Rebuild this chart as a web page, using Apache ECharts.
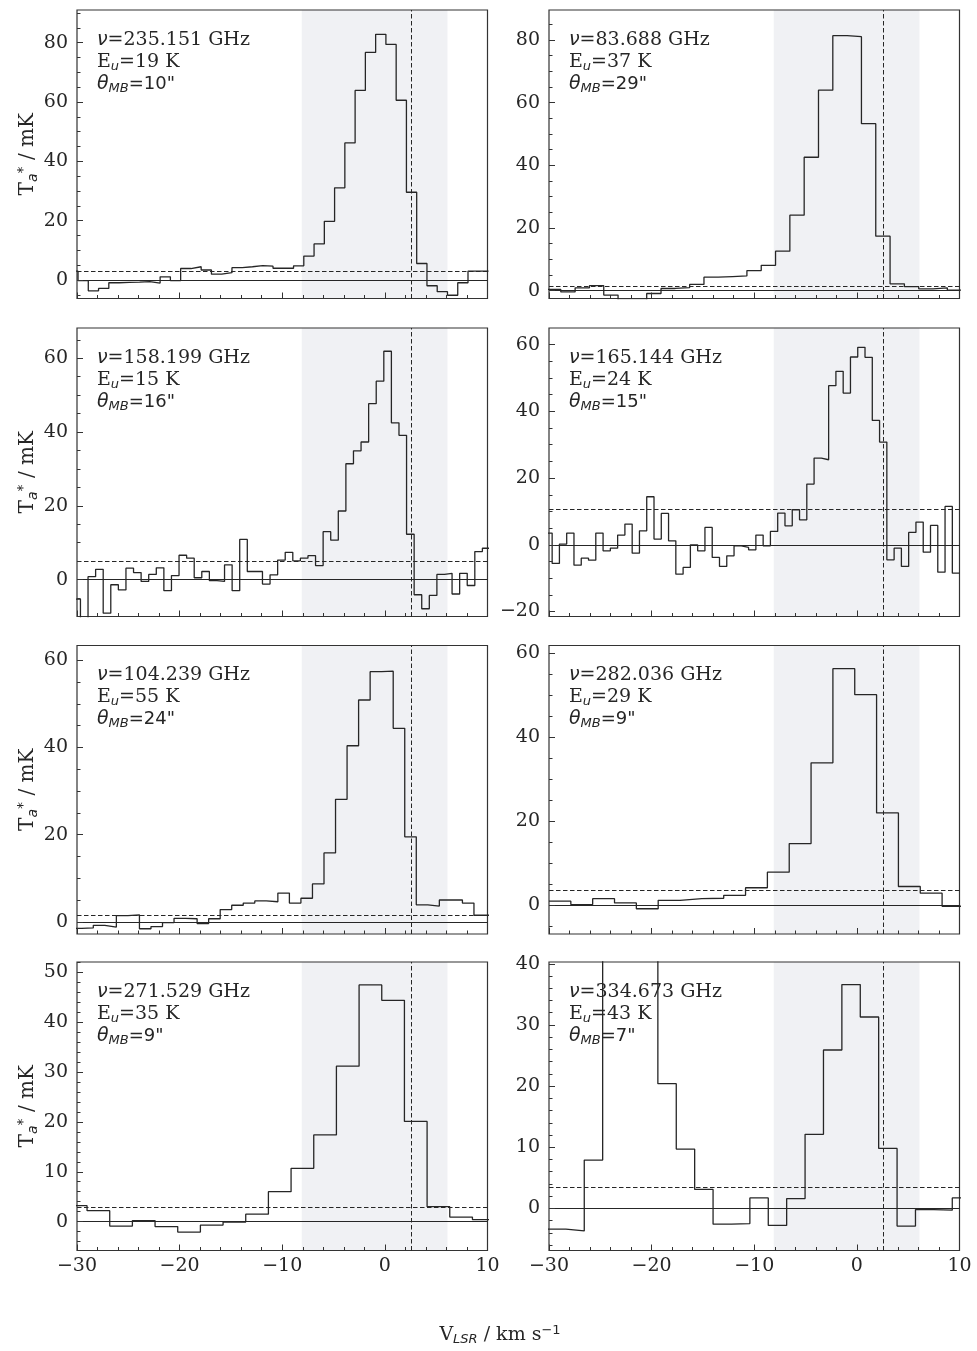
<!DOCTYPE html>
<html>
<head>
<meta charset="utf-8">
<script src="https://cdn.jsdelivr.net/npm/echarts@6/dist/echarts.min.js"></script>
<style>
html,body{margin:0;padding:0;background:#ffffff;}
#chart{width:977px;height:1351px;}
</style>
</head>
<body>
<div id="chart"></div>
<script>
// ---------------- data ----------------
const frequencies = ['235.151', '83.688', '158.199', '165.144', '104.239', '282.036', '271.529', '334.673'];
const upperEnergies = [19, 37, 15, 24, 55, 29, 35, 43];
const beamSizes = [10, 29, 16, 15, 24, 9, 9, 7];

// first channel edge (km/s) and channel width (km/s) of each spectrum
const channelStart = [-30.9, -30.245, -30.403, -30.403, -30.66, -30.0, -31.23, -30.15];
const channelWidth = [1.0, 1.395, 0.739, 0.709, 1.124, 2.128, 2.209, 1.793];

const spec235 = [3.0, -0.2, -3.6, -2.8, -0.9, -0.8, -0.7, -0.5, -1.0, 1.1, -0.2, 3.9, 4.5, 3.4, 2.0, 2.5, 4.2, 4.5, 4.9, 4.7, 4.0, 4.0, 4.8, 8.1, 12.2, 19.8, 31.1, 46.2, 63.9, 76.7, 82.8, 79.4, 60.6, 29.6, 5.6, -1.9, -3.9, -5.1, -0.9, 3.0, 3.0];
const spec83 = [0.4, -0.4, 0.9, 1.6, -1.4, -3.0, -3.0, -0.9, 0.7, 1.0, 2.0, 4.3, 4.5, 4.7, 6.4, 8.1, 12.6, 24.1, 42.6, 64.0, 81.4, 81.1, 53.3, 17.4, 2.2, 1.3, 0.6, 0.9, 0.2];
const spec158 = [-5.3, -12, 0.8, 2.8, -9.1, -1.4, -2.8, 3.1, 1.9, -0.5, 1.4, 3.2, -3.0, 1.1, 6.6, 5.8, 0.5, 2.2, -0.3, -0.5, 4.0, -3.0, 10.9, 2.2, 2.2, -1.2, 1.3, 5.3, 7.4, 5.1, 5.8, 6.5, 3.8, 13.0, 10.7, 18.6, 31.4, 34.9, 37.3, 47.7, 53.8, 61.9, 42.5, 39.1, 12.3, -4.1, -7.9, -4.3, 1.4, 1.7, -3.9, 1.7, -1.6, 7.6, 8.5];
const spec165 = [3.5, -5.6, 0.2, 3.5, -6.1, -4.0, -4.6, 3.5, -1.8, -1.0, 2.9, 6.2, -2.5, 4.2, 14.4, 1.7, 9.4, 1.2, -8.8, -6.8, 0.0, -1.8, 5.2, -3.8, -6.5, -3.3, -0.3, -0.8, -1.5, 2.9, -0.3, 4.0, 9.5, 5.7, 10.5, 7.5, 18.2, 26.0, 25.5, 47.7, 52.0, 45.5, 56.3, 59.2, 56.2, 37.3, 30.8, -4.5, -1.0, -6.5, 3.7, 6.8, -2.2, 5.8, -8.2, 11.5, -8.5];
const spec104 = [-1.5, -1.4, -0.8, -1.2, 1.4, 1.6, -1.6, -1.1, -0.2, 0.8, 0.7, -0.4, 0.7, 2.8, 3.8, 4.3, 4.8, 4.6, 6.6, 4.3, 5.4, 8.7, 15.8, 28.1, 40.4, 50.9, 57.4, 57.5, 44.4, 19.5, 3.9, 3.6, 5.0, 5.0, 4.3, 1.5, 1.5];
const spec282 = [1.0, 0.2, 1.6, 0.6, -0.8, 1.2, 1.6, 1.7, 2.4, 4.2, 7.9, 14.7, 33.9, 56.3, 50.1, 22.0, 4.5, 2.9, -0.2];
const spec271 = [3.2, 2.2, -0.9, 0.2, -1.0, -2.1, -0.7, -0.1, 1.5, 6.0, 10.7, 17.4, 31.2, 47.5, 44.4, 20.1, 3.0, 0.9, 0.4];
const spec334 = [-3.4, -3.7, 7.9, 55, 95, 60, 20.4, 9.7, 3.1, -2.6, -2.5, 1.7, -2.8, 1.6, 12.1, 25.9, 36.6, 31.3, 9.8, -2.9, -0.2, -0.3, 1.7];
const spectra = [spec235, spec83, spec158, spec165, spec104, spec282, spec271, spec334];

const rmsLevels = [3.0, 1.5, 5.0, 10.7, 1.5, 3.5, 2.9, 3.5];
const systemicVelocity = 2.6;
const lineWindow = [-8.1, 6.1];

const yMins = [-6.2, -2.5, -10, -21.5, -2.8, -6.8, -5.8, -6.9];
const yMaxs = [91, 89.6, 68.2, 65, 63.4, 61.8, 52.1, 40.3];
const yTickValues = [
  [0, 20, 40, 60, 80], [0, 20, 40, 60, 80], [0, 20, 40, 60], [-20, 0, 20, 40, 60],
  [0, 20, 40, 60], [0, 20, 40, 60], [0, 10, 20, 30, 40, 50], [0, 10, 20, 30, 40]
];
const yMinorSteps = [5, 5, 5, 5, 5, 5, 2, 2];
const xMin = -30, xMax = 10;
const xTickValues = [-30, -20, -10, 0, 10];
const xMinorStep = 2;

// ---------------- style ----------------
const SERIF = 'DejaVu Serif';
const SANS = 'DejaVu Sans';
const TXT = '#262626';
const AX = '#333333';
const SHADE = '#f0f1f4';
const GRID_LEFT = [77, 549];
const GRID_TOP = [10, 328, 645.5, 962];
const GRID_W = 410.5, GRID_H = 288.5;
const FS = 19;

function minus(v) { return (v < 0 ? '\u2212' : '') + Math.abs(v); }
function minorValues(lo, hi, step, majors) {
  const out = [];
  const s = Math.ceil(lo / step) * step;
  for (let v = s; v <= hi + 1e-9; v += step) {
    const r = Math.round(v * 1000) / 1000;
    if (majors.indexOf(r) < 0 && r > lo && r < hi) out.push(r);
  }
  return out;
}

const richG = {
  s: { fontFamily: SERIF, fontSize: FS, fill: TXT, lineHeight: 22, verticalAlign: 'middle' },
  m: { fontFamily: SANS, fontStyle: 'italic', fontSize: FS, fill: TXT, lineHeight: 22, verticalAlign: 'middle' },
  ms: { fontFamily: SANS, fontSize: 18, fill: TXT, lineHeight: 22, verticalAlign: 'middle' },
  sub: { fontFamily: SANS, fontStyle: 'italic', fontSize: 13, fill: TXT, lineHeight: 12, verticalAlign: 'bottom' },
  sup: { fontFamily: SANS, fontSize: 13, fill: TXT, lineHeight: 10, verticalAlign: 'top' }
};
const richA = {
  s: { fontFamily: SERIF, fontSize: 20, color: TXT, lineHeight: 24, verticalAlign: 'middle' },
  sub: { fontFamily: SANS, fontStyle: 'italic', fontSize: 14, color: TXT, lineHeight: 13, verticalAlign: 'bottom' },
  sup: { fontFamily: SANS, fontSize: 14, color: TXT, lineHeight: 10, verticalAlign: 'top' }
};

const grids = [], xAxes = [], yAxes = [], series = [], graphics = [];
const xMinor = minorValues(xMin, xMax, xMinorStep, xTickValues);

for (let i = 0; i < 8; i++) {
  const col = i % 2, row = Math.floor(i / 2);
  const left = GRID_LEFT[col], top = GRID_TOP[row];
  grids.push({ left: left, top: top, width: GRID_W, height: GRID_H, show: true,
    borderColor: AX, borderWidth: 1.2, backgroundColor: 'transparent', z: 3 });

  // x axes (major + minor)
  xAxes.push({ gridIndex: i, type: 'value', min: xMin, max: xMax, position: 'bottom', z: 6,
    axisLine: { show: false, onZero: false }, splitLine: { show: false },
    axisTick: { show: true, inside: true, length: 6, customValues: xTickValues, lineStyle: { color: AX, width: 1 } },
    axisLabel: { show: row === 3, customValues: xTickValues, formatter: minus, margin: 6,
      fontFamily: SERIF, fontSize: FS, color: TXT } });
  xAxes.push({ gridIndex: i, type: 'value', min: xMin, max: xMax, position: 'bottom', z: 6,
    axisLine: { show: false, onZero: false }, splitLine: { show: false },
    axisTick: { show: true, inside: true, length: 3.5, customValues: xMinor, lineStyle: { color: AX, width: 1 } },
    axisLabel: { show: false } });

  // y axes (major + minor)
  const yMajor = yTickValues[i];
  const yMinor = minorValues(yMins[i], yMaxs[i], yMinorSteps[i], yMajor);
  const yMain = { gridIndex: i, type: 'value', min: yMins[i], max: yMaxs[i], position: 'left', z: 6,
    axisLine: { show: false, onZero: false }, splitLine: { show: false },
    axisTick: { show: true, inside: true, length: 6, customValues: yMajor, lineStyle: { color: AX, width: 1 } },
    axisLabel: { show: true, customValues: yMajor, formatter: minus, margin: 9,
      fontFamily: SERIF, fontSize: FS, color: TXT } };
  if (col === 0) {
    yMain.name = '{s|T}{sub|a}{sup|*}{s| / mK}';
    yMain.nameLocation = 'middle';
    yMain.nameRotate = 90;
    yMain.nameGap = 37;
    yMain.nameTextStyle = { rich: richA };
  }
  yAxes.push(yMain);
  yAxes.push({ gridIndex: i, type: 'value', min: yMins[i], max: yMaxs[i], position: 'left', z: 6,
    axisLine: { show: false, onZero: false }, splitLine: { show: false },
    axisTick: { show: true, inside: true, length: 3.5, customValues: yMinor, lineStyle: { color: AX, width: 1 } },
    axisLabel: { show: false } });

  // spectrum as a histogram (channel edges)
  const vals = spectra[i];
  const pts = vals.map((v, k) => [channelStart[i] + k * channelWidth[i], v]);
  pts.push([channelStart[i] + vals.length * channelWidth[i], vals[vals.length - 1]]);

  series.push({ type: 'line', xAxisIndex: 2 * i, yAxisIndex: 2 * i, data: [[xMin, 0]], z: 1,
    silent: true, symbol: 'none', lineStyle: { width: 0, opacity: 0 },
    markArea: { silent: true, animation: false, itemStyle: { color: SHADE },
      data: [[{ xAxis: lineWindow[0] }, { xAxis: lineWindow[1] }]] } });

  series.push({ type: 'line', xAxisIndex: 2 * i, yAxisIndex: 2 * i, step: 'end', data: pts, z: 4,
    symbol: 'none', showSymbol: false, silent: true, clip: true,
    lineStyle: { color: TXT, width: 1.3 },
    markLine: { silent: true, symbol: ['none', 'none'], label: { show: false }, animation: false,
      data: [
        { xAxis: systemicVelocity, lineStyle: { type: [4.5, 2.5], color: TXT, width: 1 } },
        { yAxis: 0, lineStyle: { type: 'solid', color: TXT, width: 1 } },
        { yAxis: rmsLevels[i], lineStyle: { type: [4.5, 2.5], color: TXT, width: 1 } }
      ] } });

  graphics.push({ type: 'text', x: left + 20, y: top + 19, z: 10, silent: true,
    style: { text: '{m|\u03bd}{s|=' + frequencies[i] + ' GHz}\n{s|E}{sub|u}{s|=' + upperEnergies[i] + ' K}\n{m|\u03b8}{sub|MB}{ms|=' + beamSizes[i] + '"}',
      rich: richG } });
}

graphics.push({ type: 'text', x: 500, y: 1335, z: 10, silent: true,
  style: { text: '{s|V}{sub|LSR}{s| / km s}{sup|\u22121}', rich: richG, align: 'center', verticalAlign: 'middle' } });

const chart = echarts.init(document.getElementById('chart'), null, { renderer: 'canvas', width: 977, height: 1351 });
chart.setOption({
  animation: false,
  backgroundColor: '#ffffff',
  grid: grids,
  xAxis: xAxes,
  yAxis: yAxes,
  series: series,
  graphic: graphics
});
</script>
</body>
</html>
